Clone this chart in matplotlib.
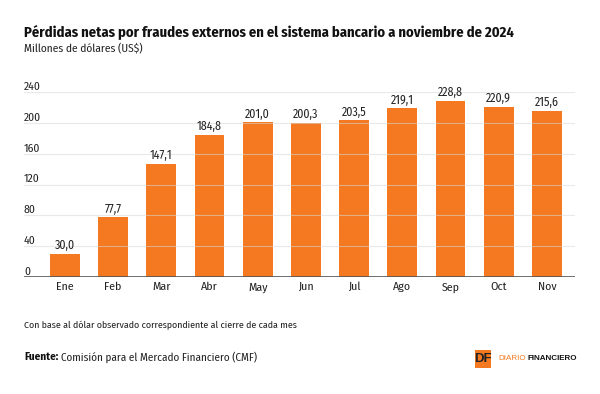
import matplotlib
matplotlib.use("Agg")
import matplotlib.pyplot as plt
from matplotlib.patches import Rectangle
from matplotlib import font_manager

months = ["Ene", "Feb", "Mar", "Abr", "May", "Jun", "Jul", "Ago", "Sep", "Oct", "Nov"]
values = [30.0, 77.7, 147.1, 184.8, 201.0, 200.3, 203.5, 219.1, 228.8, 220.9, 215.6]
yticks = [0, 40, 80, 120, 160, 200, 240]

ORANGE = "#F47920"
names = {f.name for f in font_manager.fontManager.ttflist}
FAM = [n for n in ['Fira Sans Condensed', 'Asap Condensed'] if n in names] + ['DejaVu Sans']
plt.rcParams['font.family'] = FAM
LOGOFAM = [n for n in ['Arial', 'Liberation Sans'] if n in names] + ['DejaVu Sans']

fig = plt.figure(figsize=(6, 3.94), dpi=100)
ax = fig.add_axes([0.04, 1 - 277/394, 0.918, (277 - 92)/394])

x = list(range(len(months)))
ax.bar(x, values, width=0.62, color=ORANGE, zorder=2)
for xi, v in zip(x, values):
    ax.text(xi, v + 2.5, f"{v:.1f}".replace(".", ","), ha="center", va="bottom",
            fontsize=8.6, color="#222222", zorder=4)

ax.set_xlim(-0.85, 10.58)
ax.set_ylim(0, 240)
ax.set_yticks(yticks)
ax.set_yticklabels([])
for t in yticks:
    ax.axhline(t, color="#d8d8d8", lw=0.8, alpha=0.55, zorder=3)
    ax.text(-0.85, t + 2.6, str(t), ha="left", va="baseline", fontsize=8.4,
            color="#222222")
ax.axhline(0, color="#555555", lw=1.2, zorder=4)
ax.tick_params(axis="y", length=0)
ax.set_xticks(x)
ax.set_xticklabels(months, fontsize=8.5, color="#222222")
ax.tick_params(axis="x", length=0, pad=3.5)
for s in ax.spines.values():
    s.set_visible(False)

fig.text(0.04, 1 - 32/394, "Pérdidas netas por fraudes externos en el sistema bancario a noviembre de 2024",
         fontsize=10.5, fontweight="bold", ha="left", va="center", color="#111111")
fig.text(0.04, 1 - 49/394, "Millones de dólares (US$)", fontsize=8.2, ha="left", va="center",
         color="#222222")
fig.text(0.04, 1 - 325/394, "Con base al dólar observado correspondiente al cierre de cada mes",
         fontsize=7.1, ha="left", va="center", color="#222222")
ft = fig.text(0.04, 1 - 360.5/394, "Fuente:", fontsize=8.0, fontweight="bold", ha="left", va="baseline",
              color="#111111")
fig.canvas.draw()
r = fig.canvas.get_renderer()
bb = ft.get_window_extent(r)
fig.text(bb.x1 / fig.bbox.width + 3/600, 1 - 360.5/394, "Comisión para el Mercado Financiero (CMF)",
         fontsize=8.0, ha="left", va="baseline", color="#222222")

# logo
fig.patches.append(Rectangle((475/600, 1 - 368/394), 16/600, 18/394, transform=fig.transFigure,
                             facecolor=ORANGE, edgecolor="none"))
fig.text(483/600, 1 - 359/394, "DF", fontsize=9.5, fontweight="bold", ha="center", va="center",
         color="#222222", family=LOGOFAM)
d = fig.text(498/600, 1 - 358.5/394, "DIARIO", fontsize=5.8, ha="left", va="center", color=ORANGE,
             family=LOGOFAM)
bb2 = d.get_window_extent(r)
fig.text(bb2.x1 / fig.bbox.width + 1.5/600, 1 - 358.5/394, "FINANCIERO", fontsize=5.8, fontweight="bold",
         ha="left", va="center", color="#111111", family=LOGOFAM)

fig.savefig("out.png", dpi=100, facecolor="white")
